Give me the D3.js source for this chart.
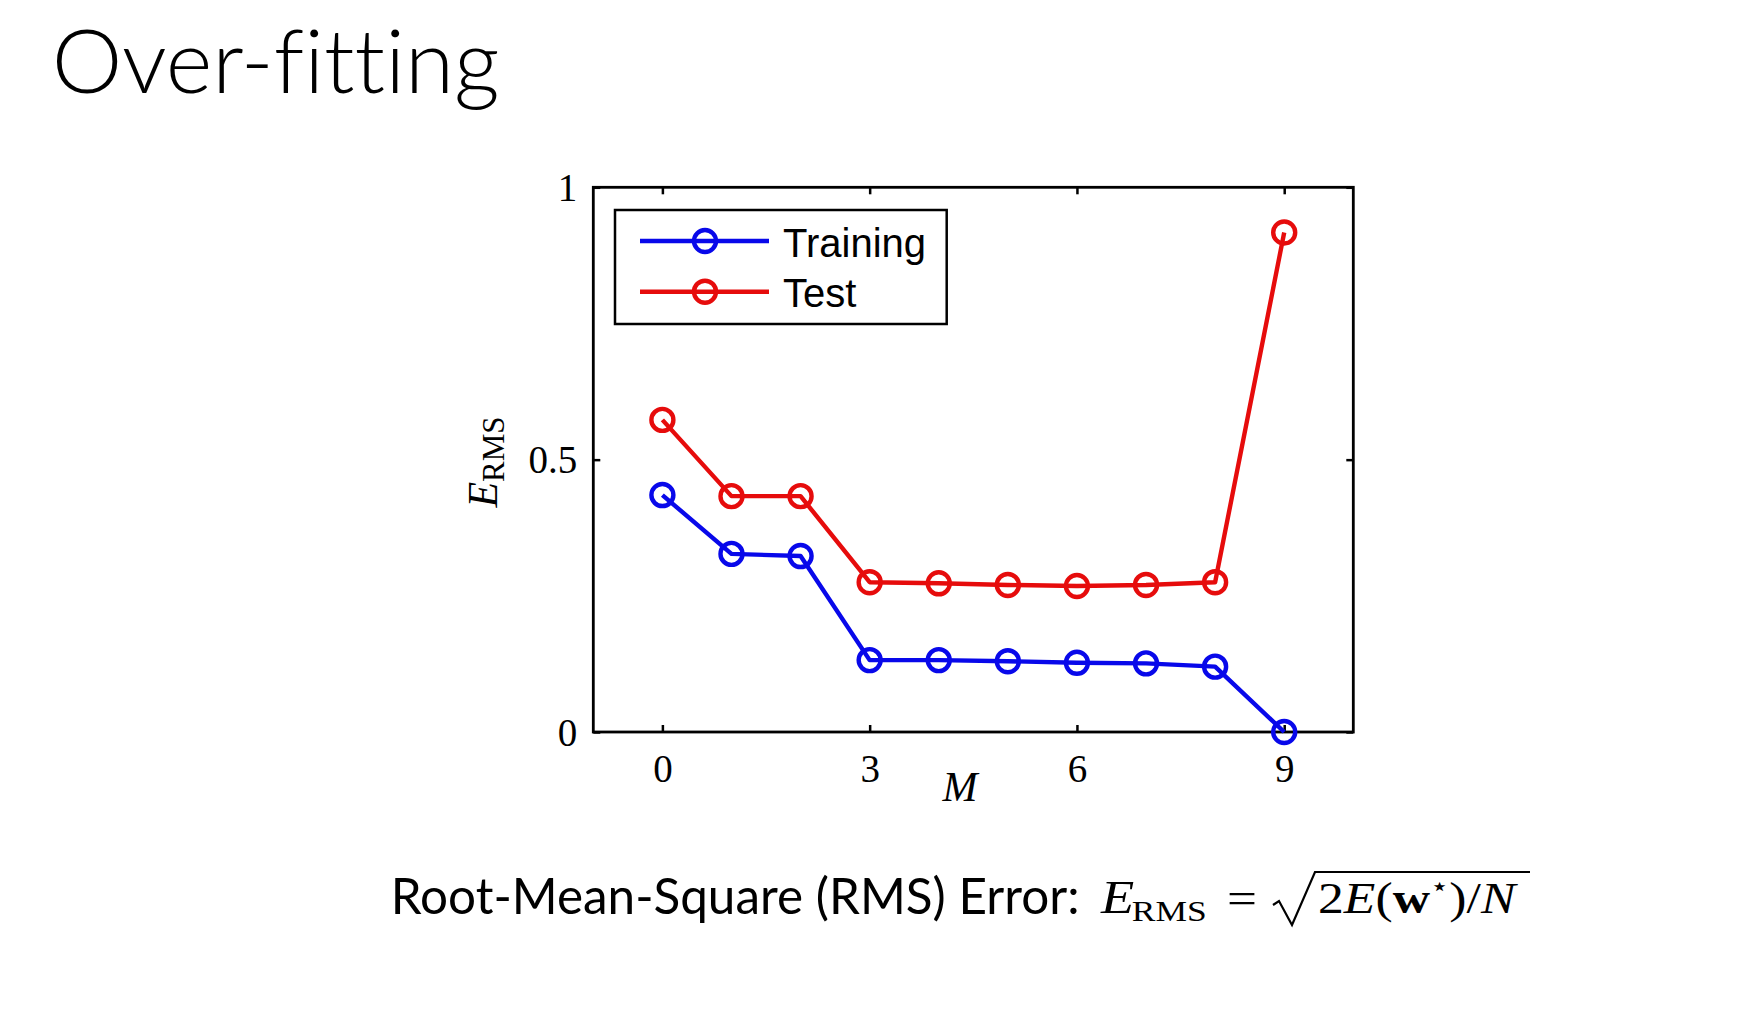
<!DOCTYPE html>
<html>
<head>
<meta charset="utf-8">
<script src="https://cdn.jsdelivr.net/npm/d3@7"></script>
<style>
  html, body { margin: 0; padding: 0; background: #fff; }
  svg { display: block; }
  text { font-variant-ligatures: none; }
</style>
</head>
<body>
<svg id="chart" width="1742" height="1034"></svg>
<script>
// ---- data ----
const orders = [0, 1, 2, 3, 4, 5, 6, 7, 8, 9];
const trainingErr = [0.435, 0.327, 0.323, 0.132, 0.132, 0.130, 0.127, 0.126, 0.120, 0.0];
const testErr = [0.573, 0.433, 0.433, 0.275, 0.273, 0.270, 0.268, 0.270, 0.275, 0.917];
const seriesNames = ["Training", "Test"];
const xTicks = [0, 3, 6, 9];
const yTicks = [0, 0.5, 1];
const yTickLabels = ["0", "0.5", "1"];
const titleText = "Over-fitting";
const captionText = "Root-Mean-Square (RMS) Error:";

const BLUE = "#0808ea", RED = "#e60c0c";

const svg = d3.select("#chart");
svg.append("rect").attr("width", 1742).attr("height", 1034).attr("fill", "#fff");

// ---- title ----
svg.append("text")
  .attr("x", 51.7).attr("y", 92.5)
  .attr("font-family", "Lato, 'Open Sans', sans-serif")
  .attr("font-weight", 300)
  .attr("font-size", 89)
  .attr("textLength", 448).attr("lengthAdjust", "spacingAndGlyphs")
  .attr("fill", "#000")
  .text(titleText);

// ---- plot ----
const L = 593.3, R = 1353.3, T = 187.3, B = 732;
const x = d3.scaleLinear().domain([-1, 10]).range([L, R]);
const y = d3.scaleLinear().domain([0, 1]).range([B, T]);

const serif = "'Liberation Serif', 'Times New Roman', 'DejaVu Serif', serif";

const axB = svg.append("g").attr("transform", `translate(0,${B})`)
  .call(d3.axisBottom(x).tickValues(xTicks).tickSizeInner(-7).tickSizeOuter(0).tickPadding(22).tickFormat(d3.format("d")));
const axT = svg.append("g").attr("transform", `translate(0,${T})`)
  .call(d3.axisTop(x).tickValues(xTicks).tickSizeInner(-7).tickSizeOuter(0).tickFormat(""));
const axL = svg.append("g").attr("transform", `translate(${L},0)`)
  .call(d3.axisLeft(y).tickValues(yTicks).tickSizeInner(-7).tickSizeOuter(0).tickPadding(16)
    .tickFormat((d, i) => yTickLabels[i]));
const axRt = svg.append("g").attr("transform", `translate(${R},0)`)
  .call(d3.axisRight(y).tickValues(yTicks).tickSizeInner(-7).tickSizeOuter(0).tickFormat(""));

[axB, axT, axL, axRt].forEach(g => {
  g.select(".domain").remove();
  g.selectAll(".tick line").attr("stroke", "#000").attr("stroke-width", 2.5);
  g.selectAll(".tick text").attr("font-family", serif).attr("font-size", 39).attr("fill", "#000");
});
axL.selectAll(".tick text").attr("font-size", 39).attr("dy", "0.34em");

svg.append("rect")
  .attr("x", L).attr("y", T).attr("width", R - L).attr("height", B - T)
  .attr("fill", "none").attr("stroke", "#000").attr("stroke-width", 2.8);

// axis labels
svg.append("text")
  .attr("x", 960).attr("y", 801)
  .attr("text-anchor", "middle")
  .attr("font-family", serif).attr("font-style", "italic").attr("font-size", 42)
  .text("M");

const yl = svg.append("text")
  .attr("transform", "translate(497,462) rotate(-90)")
  .attr("text-anchor", "middle")
  .attr("font-family", serif).attr("font-size", 42);
yl.append("tspan").attr("font-style", "italic").text("E");
yl.append("tspan").attr("font-size", 31).attr("dy", 7).text("RMS");

// series
const series = [
  { name: seriesNames[0], values: trainingErr, color: BLUE },
  { name: seriesNames[1], values: testErr, color: RED }
];
const line = d3.line().x((d, i) => x(orders[i])).y(d => y(d));

series.forEach(s => {
  const g = svg.append("g");
  g.append("path").datum(s.values)
    .attr("d", line).attr("fill", "none").attr("stroke", s.color)
    .attr("stroke-width", 4.4).attr("stroke-linejoin", "round");
  g.selectAll("circle").data(s.values).enter().append("circle")
    .attr("cx", (d, i) => x(orders[i])).attr("cy", d => y(d))
    .attr("r", 11).attr("fill", "none").attr("stroke", s.color).attr("stroke-width", 4.4);
});

// legend
const lg = svg.append("g");
lg.append("rect").attr("x", 615).attr("y", 210).attr("width", 331.7).attr("height", 114)
  .attr("fill", "#fff").attr("stroke", "#000").attr("stroke-width", 2.5);
const legRows = [241, 291.7];
series.forEach((s, i) => {
  const yy = legRows[i];
  lg.append("line").attr("x1", 640).attr("x2", 769).attr("y1", yy).attr("y2", yy)
    .attr("stroke", s.color).attr("stroke-width", 4.6);
  lg.append("circle").attr("cx", 705).attr("cy", yy).attr("r", 11)
    .attr("fill", "none").attr("stroke", s.color).attr("stroke-width", 4.4);
  lg.append("text").attr("x", 783).attr("y", yy + 15.5)
    .attr("font-family", "'Liberation Sans', Arial, Helvetica, sans-serif").attr("font-size", 40)
    .text(s.name);
});

// ---- caption ----
svg.append("text")
  .attr("x", 390.7).attr("y", 914)
  .attr("font-family", "Lato, 'Open Sans', sans-serif")
  .attr("font-size", 50)
  .attr("textLength", 689).attr("lengthAdjust", "spacingAndGlyphs")
  .text(captionText);

const fm = svg.append("g").attr("font-family", serif);

function fitGroup(x0, y0, width, build) {
  const g = fm.append("g").attr("transform", `translate(${x0},${y0})`);
  const t = g.append("text").attr("x", 0).attr("y", 0).attr("font-size", 44);
  build(t);
  const w = t.node().getBBox().width;
  g.attr("transform", `translate(${x0},${y0}) scale(${width / w},1)`);
  return g;
}

fitGroup(1101, 913, 107, t => {
  t.append("tspan").attr("font-style", "italic").attr("font-size", 46).text("E");
  t.append("tspan").attr("dx", -2).attr("dy", 8).attr("font-size", 30).text("RMS");
});
fitGroup(1227, 913, 30, t => { t.text("="); });

// radical sign
fm.append("path")
  .attr("d", "M1273,905 L1279,901 L1292,925 L1315,872 L1530,872")
  .attr("fill", "none").attr("stroke", "#000").attr("stroke-width", 2.2).attr("stroke-linejoin", "miter");

fitGroup(1318, 913, 200, t => {
  t.append("tspan").text("2");
  t.append("tspan").attr("font-style", "italic").text("E");
  t.append("tspan").text("(");
  t.append("tspan").attr("font-weight", "bold").text("w");
  t.append("tspan").attr("font-weight", "normal").attr("font-size", 26).attr("dy", -18).text("⋆");
  t.append("tspan").attr("font-weight", "normal").attr("dy", 18).text(")/");
  t.append("tspan").attr("font-style", "italic").text("N");
});
</script>
</body>
</html>
